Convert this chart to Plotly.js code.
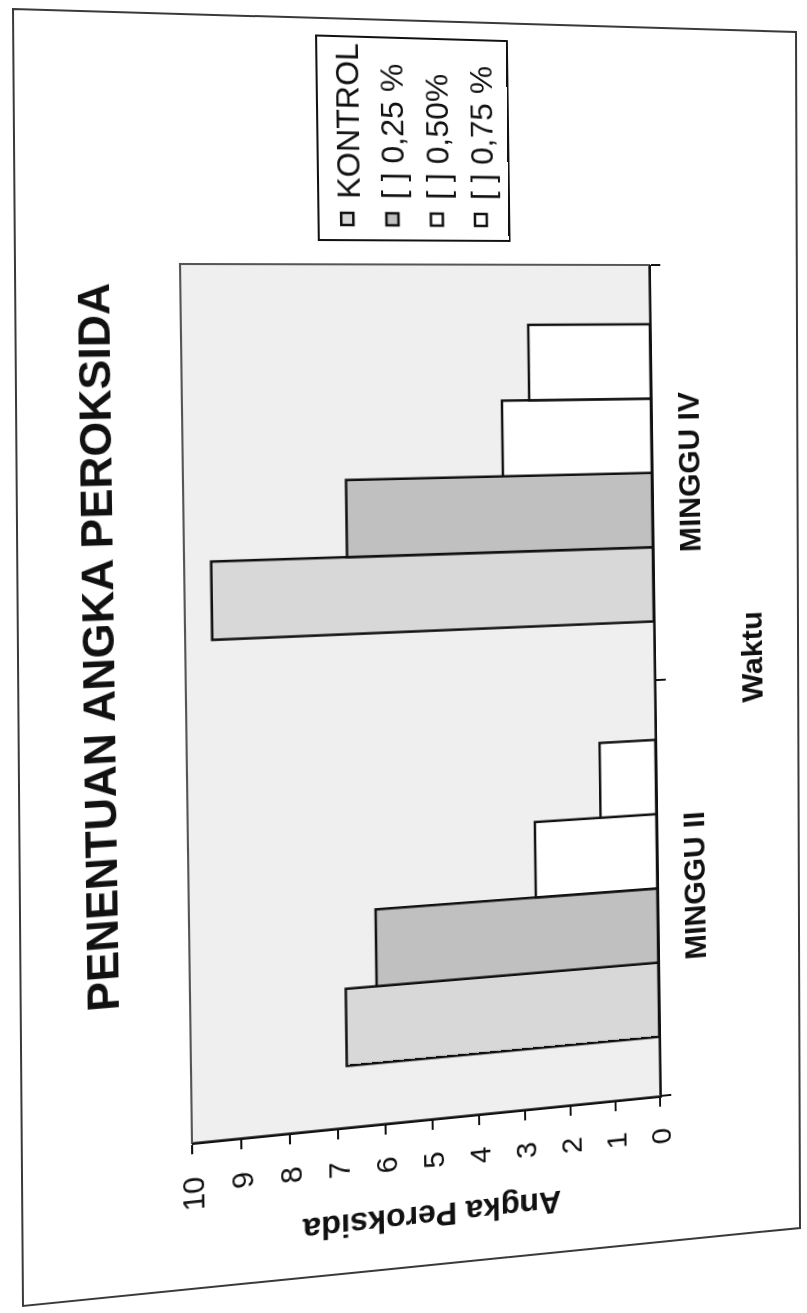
<!DOCTYPE html>
<html>
<head>
<meta charset="utf-8">
<script src="https://cdn.plot.ly/plotly-3.0.1.min.js"></script>
<style>
  html, body { margin:0; padding:0; width:807px; height:1313px; overflow:hidden; background:#ffffff; }
  #page { position:absolute; left:0; top:0; width:1313px; height:807px; transform-origin:0 0; }
  #chart { position:absolute; left:0; top:0; width:1313px; height:807px; }
  #frame { position:absolute; left:0; top:0; width:807px; height:1313px; pointer-events:none; }
</style>
</head>
<body>
<div id="page"><div id="chart"></div></div>
<svg id="frame" width="807" height="1313"><polygon points="13,9 796,32 800,1228 23,1306" fill="none" stroke="#3a3a3a" stroke-width="2"/></svg>
<script>
// ---- data ----
const categories = ['MINGGU II', 'MINGGU IV'];
const seriesNames = ['KONTROL', '[ ] 0,25 %', '[ ] 0,50%', '[ ] 0,75 %'];
const kontrol = [6.8, 9.45];
const konsentrasi025 = [6.15, 6.65];
const konsentrasi050 = [2.7, 3.3];
const konsentrasi075 = [1.25, 2.7];
const yTicks = [0,1,2,3,4,5,6,7,8,9,10];

// ---- styles ----
const FONT = 'Liberation Sans, Arial, sans-serif';
const fills = ['#d8d8d8', '#c0c0c0', '#ffffff', '#ffffff'];
const seriesValues = [kontrol, konsentrasi025, konsentrasi050, konsentrasi075];

const W = 1313, H = 807;
const M = {l:193, r:265, t:185, b:152};

const traces = seriesValues.map((vals, i) => ({
  type:'bar', x:categories, y:vals, name:seriesNames[i],
  marker:{color:fills[i], line:{color:'#111', width:2.5}}
}));

const layout = {
  width:W, height:H, autosize:false,
  margin:{l:M.l, r:M.r, t:M.t, b:M.b, pad:0},
  paper_bgcolor:'rgba(0,0,0,0)', plot_bgcolor:'#efefef',
  font:{family:FONT, color:'#111'},
  barmode:'group', bargap:0.285, bargroupgap:0,
  title:{text:'PENENTUAN ANGKA PEROKSIDA', font:{size:43, weight:'bold', family:FONT, color:'#111'},
         xref:'container', yref:'container', x:679/W, y:1-103/H, xanchor:'center', yanchor:'middle'},
  xaxis:{type:'category', showline:true, linecolor:'#111', linewidth:2,
         ticks:'outside', tickson:'boundaries', ticklen:10, tickwidth:2, tickcolor:'#111',
         tickfont:{size:31, weight:'bold', family:FONT, color:'#111'}, ticklabelstandoff:12,
         showgrid:false, zeroline:false, fixedrange:true},
  yaxis:{range:[0,10], tickvals:yTicks, ticktext:yTicks.map(String), showline:true, linecolor:'#111', linewidth:2,
         ticks:'outside', ticklen:9, tickwidth:2, tickcolor:'#111',
         tickfont:{size:30, family:FONT, color:'#111'}, ticklabelstandoff:16,
         showgrid:false, zeroline:false, fixedrange:true},
  shapes:[{type:'rect', xref:'paper', yref:'paper', x0:0, x1:1, y0:0, y1:1,
           line:{color:'#555', width:2}, layer:'below'}],
  annotations:[
    {text:'Angka Peroksida', xref:'paper', yref:'paper', x:(96-M.l)/(W-M.l-M.r), y:0.5,
     textangle:-90, showarrow:false, xanchor:'center', yanchor:'middle',
     font:{size:32, weight:'bold', family:FONT, color:'#111'}},
    {text:'Waktu', xref:'paper', yref:'paper', x:(640-M.l)/(W-M.l-M.r), y:-(760-(H-M.b))/(H-M.t-M.b),
     showarrow:false, xanchor:'center', yanchor:'middle',
     font:{size:32, weight:'bold', family:FONT, color:'#111'}}
  ],
  showlegend:true,
  legend:{xref:'container', yref:'container', x:1071/W, y:1-318/H, xanchor:'left', yanchor:'top',
          bgcolor:'#ffffff', bordercolor:'#111', borderwidth:2,
          font:{size:32, family:FONT, color:'#111'}, traceorder:'normal'}
};

// homography: plot-area corners of the flat chart -> corners seen in the scanned page
function solveH(src, dst){
  const A = [], B = [];
  for (let i=0;i<4;i++){
    const [u,v] = src[i], [x,y] = dst[i];
    A.push([u,v,1,0,0,0,-u*x,-v*x]); B.push(x);
    A.push([0,0,0,u,v,1,-u*y,-v*y]); B.push(y);
  }
  const n = 8;
  for (let c=0;c<n;c++){
    let p=c; for (let r=c+1;r<n;r++) if (Math.abs(A[r][c])>Math.abs(A[p][c])) p=r;
    [A[c],A[p]]=[A[p],A[c]]; [B[c],B[p]]=[B[p],B[c]];
    for (let r=0;r<n;r++){ if(r===c) continue; const f=A[r][c]/A[c][c];
      for (let k=c;k<n;k++) A[r][k]-=f*A[c][k]; B[r]-=f*B[c]; }
  }
  return B.map((b,i)=>b/A[i][i]);
}
const x0=M.l, x1=W-M.r, y0=M.t, y1=H-M.b;
const h = solveH([[x0,y0],[x0,y1],[x1,y0],[x1,y1]], [[192,1143],[660,1096],[180,264],[649,265]]);
const [a,b,c,d,e,f,g,hh] = h;

Plotly.newPlot('chart', traces, layout, {staticPlot:true, displayModeBar:false}).then(() => {
  document.getElementById('page').style.transform =
    `matrix3d(${a},${d},0,${g},${b},${e},0,${hh},0,0,1,0,${c},${f},0,1)`;
});
</script>
</body>
</html>
